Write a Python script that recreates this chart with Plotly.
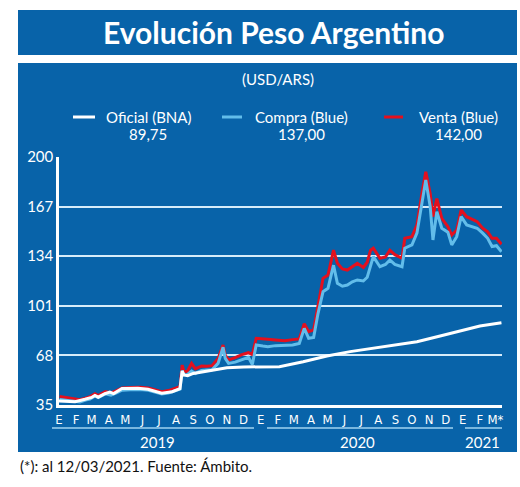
import plotly.graph_objects as go
import pandas as pd

# ---------------- data ----------------
blue_dates = ["2019-01-02","2019-01-15","2019-01-28","2019-02-08","2019-02-18","2019-02-26","2019-03-07","2019-03-13",
              "2019-03-26","2019-04-05","2019-04-15","2019-04-25","2019-05-10","2019-05-28","2019-06-12","2019-06-25",
              "2019-07-06","2019-07-18","2019-07-30","2019-08-08","2019-08-12","2019-08-15","2019-08-21","2019-08-29",
              "2019-09-05","2019-09-16","2019-09-26","2019-10-05","2019-10-16","2019-10-25","2019-10-29","2019-11-04",
              "2019-11-16","2019-11-28","2019-12-10","2019-12-17","2019-12-24","2020-01-05","2020-01-14","2020-01-28",
              "2020-02-14","2020-02-28","2020-03-11","2020-03-20","2020-03-28","2020-04-06","2020-04-14","2020-04-23",
              "2020-05-02","2020-05-12","2020-05-19","2020-05-28","2020-06-06","2020-06-15","2020-06-24","2020-07-05",
              "2020-07-12","2020-07-18","2020-07-23","2020-08-04","2020-08-14","2020-08-22","2020-08-31","2020-09-13",
              "2020-09-18","2020-10-01","2020-10-10","2020-10-19","2020-10-26","2020-11-03","2020-11-08","2020-11-15",
              "2020-11-24","2020-12-05","2020-12-12","2020-12-21","2020-12-29","2021-01-08","2021-01-27","2021-02-06",
              "2021-02-15","2021-02-23","2021-03-03","2021-03-12"]
compra_blue = [38.6,38.0,37.4,37.0,38.3,39.0,41.0,40.0,
               42.4,41.6,43.0,44.8,45.2,45.3,44.8,43.6,
               42.4,43.0,44.2,45.6,58.0,55.0,55.2,57.6,
               56.0,58.0,58.3,58.5,62.7,73.4,66.0,62.7,
               63.5,65.0,66.7,62.0,74.9,74.2,73.8,74.5,
               74.5,74.9,76.0,86.0,79.4,80.0,96.0,110.4,
               112.6,128.0,116.0,114.0,114.8,117.0,118.2,117.5,
               120.0,128.0,133.7,127.0,128.5,131.5,128.5,127.0,
               139.3,141.5,149.3,169.2,184.7,167.0,144.8,163.6,
               152.6,150.0,141.5,147.0,160.3,154.8,152.6,149.3,
               145.9,140.4,141.0,137.0]
venta_blue = [40.6,39.8,39.2,38.5,39.6,40.5,42.5,41.3,
              43.9,43.0,44.5,46.3,46.7,46.8,46.3,45.0,
              43.9,44.6,45.8,47.2,61.6,57.5,57.2,62.7,
              59.0,61.0,60.8,61.2,66.0,74.9,68.0,65.0,
              66.5,68.5,69.8,68.5,79.4,78.8,78.7,78.3,
              77.8,78.5,79.0,89.0,83.8,85.0,100.4,119.3,
              121.5,138.0,129.3,125.5,124.8,127.0,129.3,126.5,
              130.0,138.0,139.3,132.6,133.5,138.0,135.0,132.6,
              145.9,147.0,154.8,175.8,190.2,175.8,160.3,172.3,
              159.2,153.6,148.1,151.4,164.7,160.3,157.0,152.6,
              150.3,145.9,145.9,142.0]

oficial_dates = ["2019-01-01","2019-01-15","2019-01-30","2019-02-17","2019-03-01","2019-03-07","2019-03-13","2019-03-25",
                 "2019-04-03","2019-04-10","2019-04-25","2019-05-24","2019-06-11","2019-07-06","2019-07-25","2019-08-08",
                 "2019-08-12","2019-08-15","2019-08-22","2019-09-01","2019-10-01","2019-11-01","2019-12-01","2019-12-31",
                 "2020-02-04","2020-03-18","2020-04-30","2020-06-11","2020-07-30","2020-09-09","2020-10-10","2020-11-21",
                 "2020-12-27","2021-02-01","2021-03-12"]
oficial_bna = [37.7,37.5,37.2,38.8,40.0,41.4,40.2,42.5,
               43.6,42.6,46.0,46.1,45.5,42.8,43.8,45.8,
               57.5,55.0,54.5,56.0,57.8,59.8,60.3,60.2,
               60.5,63.8,67.6,70.5,73.1,75.6,77.1,80.9,
               84.5,87.6,89.75]

month_ticks = list(pd.date_range("2019-01-01", "2021-03-01", freq="MS").strftime("%Y-%m-%d"))
month_labels = ["E","F","M","A","M","J","J","A","S","O","N","D",
                "E","F","M","A","M","J","J","A","S","O","N","D",
                "E","F","M*"]
y_ticks = [35, 68, 101, 134, 167, 200]
years = ["2019", "2020", "2021"]
legend_names = ["Oficial (BNA)", "Compra (Blue)", "Venta (Blue)"]
legend_values = ["89,75", "137,00", "142,00"]

# ---------------- style ----------------
BG = "#0863A9"
WHITE = "#FFFFFF"
LIGHT = "#62BDEA"
RED = "#E3101E"
FONT = "Lato, 'Open Sans', sans-serif"
NARROW = "'Liberation Sans Narrow', 'DejaVu Sans Condensed', 'Roboto Condensed', sans-serif"

W, H = 520, 487
L, R, T, B = 59, 502, 157, 405  # plot area pixels


def px(x):
    return (x - L) / (R - L)


def py(y):
    return (B - y) / (B - T)


fig = go.Figure()
fig.add_trace(go.Scatter(x=blue_dates, y=venta_blue, mode="lines",
                         line=dict(color=RED, width=3), name=legend_names[2]))
fig.add_trace(go.Scatter(x=blue_dates, y=compra_blue, mode="lines",
                         line=dict(color=LIGHT, width=3), name=legend_names[1]))
fig.add_trace(go.Scatter(x=oficial_dates, y=oficial_bna, mode="lines",
                         line=dict(color=WHITE, width=3), name=legend_names[0]))

shapes = [
    dict(type="rect", xref="paper", yref="paper", x0=px(18), x1=px(517), y0=py(55), y1=py(10),
         fillcolor=BG, line=dict(width=0), layer="below"),
    dict(type="rect", xref="paper", yref="paper", x0=px(18), x1=px(517), y0=py(452), y1=py(63),
         fillcolor=BG, line=dict(width=0), layer="below"),
]
legend_samples = [(73, 95, WHITE), (222, 242, LIGHT), (384, 403, RED)]
for x0, x1, c in legend_samples:
    shapes.append(dict(type="line", xref="paper", yref="paper", x0=px(x0), x1=px(x1),
                       y0=py(117), y1=py(117), line=dict(color=c, width=3)))
underlines = [(52, 254), (267, 453), (465, 502)]
for x0, x1 in underlines:
    shapes.append(dict(type="line", xref="paper", yref="paper", x0=px(x0), x1=px(x1),
                       y0=py(428), y1=py(428), line=dict(color="#9FD3F2", width=1.5)))

annotations = [
    dict(text="<b>Evolución Peso Argentino</b>", x=px(273), y=py(32), xref="paper", yref="paper",
         showarrow=False, font=dict(family=FONT, size=30, color=WHITE), xanchor="center", yanchor="middle"),
    dict(text="(USD/ARS)", x=px(278), y=py(79), xref="paper", yref="paper",
         showarrow=False, font=dict(family=FONT, size=15, color=WHITE), xanchor="center", yanchor="middle"),
    dict(text="(*): al 12/03/2021. Fuente: Ámbito.", x=px(18), y=py(466), xref="paper", yref="paper",
         showarrow=False, font=dict(family=FONT, size=15, color="#111111"), xanchor="left", yanchor="middle"),
]
legend_centers = [148, 301, 458]
for name, val, cx in zip(legend_names, legend_values, legend_centers):
    annotations.append(dict(text=name, x=px(cx), y=py(117), xref="paper", yref="paper", showarrow=False,
                            font=dict(family=FONT, size=15, color=WHITE), xanchor="center", yanchor="middle"))
    annotations.append(dict(text=val, x=px(cx), y=py(134), xref="paper", yref="paper", showarrow=False,
                            font=dict(family=FONT, size=15, color=WHITE), xanchor="center", yanchor="middle"))
year_centers = [157, 357, 482]
for yr, cx in zip(years, year_centers):
    annotations.append(dict(text=yr, x=px(cx), y=py(442), xref="paper", yref="paper", showarrow=False,
                            font=dict(family=FONT, size=15, color=WHITE), xanchor="center", yanchor="middle"))

fig.update_layout(
    width=W, height=H,
    margin=dict(l=L, r=W - R, t=T, b=H - B, pad=0),
    paper_bgcolor="white", plot_bgcolor=BG,
    showlegend=False,
    shapes=shapes, annotations=annotations,
    xaxis=dict(type="date", range=["2019-01-01", "2021-03-13"],
               tickvals=month_ticks, ticktext=month_labels, ticks="",
               ticklabelstandoff=1,
               tickfont=dict(family=NARROW, size=13, color=WHITE),
               showgrid=False, zeroline=False,
               showline=True, linecolor=WHITE, linewidth=2.5),
    yaxis=dict(range=[35, 200], tickvals=y_ticks, ticks="",
               tickfont=dict(family=FONT, size=15, color=WHITE),
               showgrid=True, gridcolor="#D6ECFA", gridwidth=1.5, zeroline=False,
               showline=True, linecolor=WHITE, linewidth=2.5),
)

fig.write_html("out.html")
